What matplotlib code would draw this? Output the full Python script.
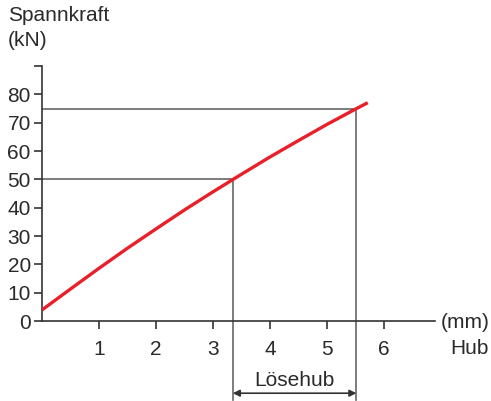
import matplotlib
matplotlib.use("Agg")
import matplotlib.pyplot as plt

# Spannkraft (kN) over Hub (mm)
hub = [0, 0.5, 1, 1.5, 2, 2.5, 3, 3.5, 4, 4.5, 5, 5.5, 5.72]
kraft = [3.9, 11.3, 18.6, 25.7, 32.5, 39.2, 45.6, 51.8, 57.9, 63.7, 69.4, 74.8, 77.1]

# reference points (hub, kraft) marking the Lösehub
ref_hub = [3.35, 5.52]
ref_kraft = [50, 75]

x_ticks = [1, 2, 3, 4, 5, 6]
y_ticks = [0, 10, 20, 30, 40, 50, 60, 70, 80, 90]
y_labels = ["0", "10", "20", "30", "40", "50", "60", "70", "80", ""]

plt.rcParams["font.family"] = ["Liberation Sans", "DejaVu Sans"]
TXT = "#2a2a2a"
GREY = "#666666"
FS = 15

fig = plt.figure(figsize=(4.91, 4.01), dpi=100)
ax = fig.add_axes([0.0855, 0.1995, 0.8005, 0.6355])

ax.plot(hub, kraft, color="#e8202a", lw=2.4, solid_capstyle="butt", zorder=3)

y_low = -28  # how far the guide lines run below the axis
for hx, ky in zip(ref_hub, ref_kraft):
    ax.plot([0, hx], [ky, ky], color=GREY, lw=1.2, zorder=2)
    ax.plot([hx, hx], [ky, y_low], color=GREY, lw=1.2, clip_on=False, zorder=2)

ax.annotate("", xy=(ref_hub[0], -25.5), xytext=(ref_hub[1], -25.5),
            arrowprops=dict(arrowstyle="<|-|>", color="#333333", lw=1.2,
                            shrinkA=0, shrinkB=0, mutation_scale=10),
            annotation_clip=False)
ax.text(sum(ref_hub) / 2, -21.0, "Lösehub", ha="center", va="center",
        fontsize=FS, color=TXT, clip_on=False)

ax.set_xlim(0, 6.9)
ax.set_ylim(0, 90)
ax.set_xticks(x_ticks)
ax.set_yticks(y_ticks)
ax.set_yticklabels(y_labels)
for s in ["top", "right"]:
    ax.spines[s].set_visible(False)
for s in ["left", "bottom"]:
    ax.spines[s].set_color("#333333")
    ax.spines[s].set_linewidth(1.2)
ax.tick_params(axis="y", length=6, width=1.2, color="#333333", labelsize=FS,
               labelcolor=TXT, pad=2)
ax.tick_params(axis="x", length=6, width=1.2, color="#333333", labelsize=FS,
               labelcolor=TXT, pad=8)

fig.text(8 / 491, 1 - 6 / 401, "Spannkraft", ha="left", va="top", fontsize=FS, color=TXT)
fig.text(8 / 491, 1 - 31 / 401, "(kN)", ha="left", va="top", fontsize=FS, color=TXT)
fig.text(441 / 491, 1 - 322 / 401, "(mm)", ha="left", va="center", fontsize=FS, color=TXT)
fig.text(489 / 491, 1 - 349 / 401, "Hub", ha="right", va="center", fontsize=FS, color=TXT)

fig.savefig("out.png", dpi=100)
